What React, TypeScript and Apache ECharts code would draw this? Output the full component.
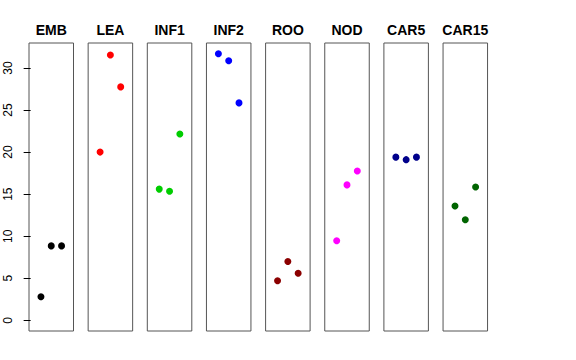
import React, { useEffect, useRef } from "react";
import * as echarts from "echarts";

const panels = ["EMB", "LEA", "INF1", "INF2", "ROO", "NOD", "CAR5", "CAR15"];
const colors = ["#000000", "#FF0000", "#00CD00", "#0000FF", "#8B0000", "#FF00FF", "#00008B", "#006400"];
const xPositions = [1, 2, 3];
const embValues = [2.8, 8.85, 8.85];
const leaValues = [20.0, 31.55, 27.75];
const inf1Values = [15.6, 15.35, 22.15];
const inf2Values = [31.7, 30.85, 25.85];
const rooValues = [4.7, 7.0, 5.6];
const nodValues = [9.45, 16.1, 17.75];
const car5Values = [19.4, 19.1, 19.4];
const car15Values = [13.6, 11.95, 15.85];
const allValues = [embValues, leaValues, inf1Values, inf2Values, rooValues, nodValues, car5Values, car15Values];
const yTicks = [0, 5, 10, 15, 20, 25, 30];

export default function App() {
  const ref = useRef<HTMLDivElement>(null);
  useEffect(() => {
    if (!ref.current) return;
    const chart = echarts.init(ref.current, undefined, { renderer: "svg" });
    const left0 = 29;
    const pitch = 59.15;
    const w = 44.5;
    const top = 43;
    const h = 288;
    const grids = panels.map((_, i) => ({
      left: left0 + pitch * i,
      top,
      width: w,
      height: h,
      show: true,
      borderColor: "#555555",
      borderWidth: 1,
      backgroundColor: "transparent",
    }));
    const xAxes = panels.map((_, i) => ({
      type: "value",
      gridIndex: i,
      min: -0.16,
      max: 4.16,
      show: false,
    }));
    const yAxes = panels.map((_, i) => ({
      type: "value",
      gridIndex: i,
      min: -1.268,
      max: 32.968,
      show: i === 0,
      splitLine: { show: false },
      axisLine: { show: false },
      axisTick: {
        show: i === 0,
        length: 7,
        inside: false,
        customValues: yTicks,
        lineStyle: { color: "#000" },
      },
      axisLabel: {
        show: i === 0,
        rotate: 90,
        margin: 15,
        customValues: yTicks,
        color: "#000",
        fontSize: 12,
        fontFamily: "Liberation Sans, Arial, sans-serif",
      },
    }));
    const series = panels.map((_, i) => ({
      type: "scatter",
      xAxisIndex: i,
      yAxisIndex: i,
      symbolSize: 7,
      itemStyle: { color: colors[i], opacity: 1 },
      data: xPositions.map((x, j) => [x, allValues[i][j]]),
    }));
    const graphic = panels.map((name, i) => ({
      type: "text",
      x: left0 + pitch * i + w / 2,
      y: 29.5,
      style: {
        text: name,
        fill: "#000",
        font: "bold 14px 'Liberation Sans', Arial, sans-serif",
        textAlign: "center",
        textVerticalAlign: "middle",
      },
    }));
    chart.setOption({
      animation: false,
      backgroundColor: "#ffffff",
      grid: grids,
      xAxis: xAxes,
      yAxis: yAxes,
      series,
      graphic,
    } as any);
    return () => chart.dispose();
  }, []);
  return (
    <div
      ref={ref}
      style={{ position: "absolute", left: 0, top: 0, width: 576, height: 360 }}
    />
  );
}
